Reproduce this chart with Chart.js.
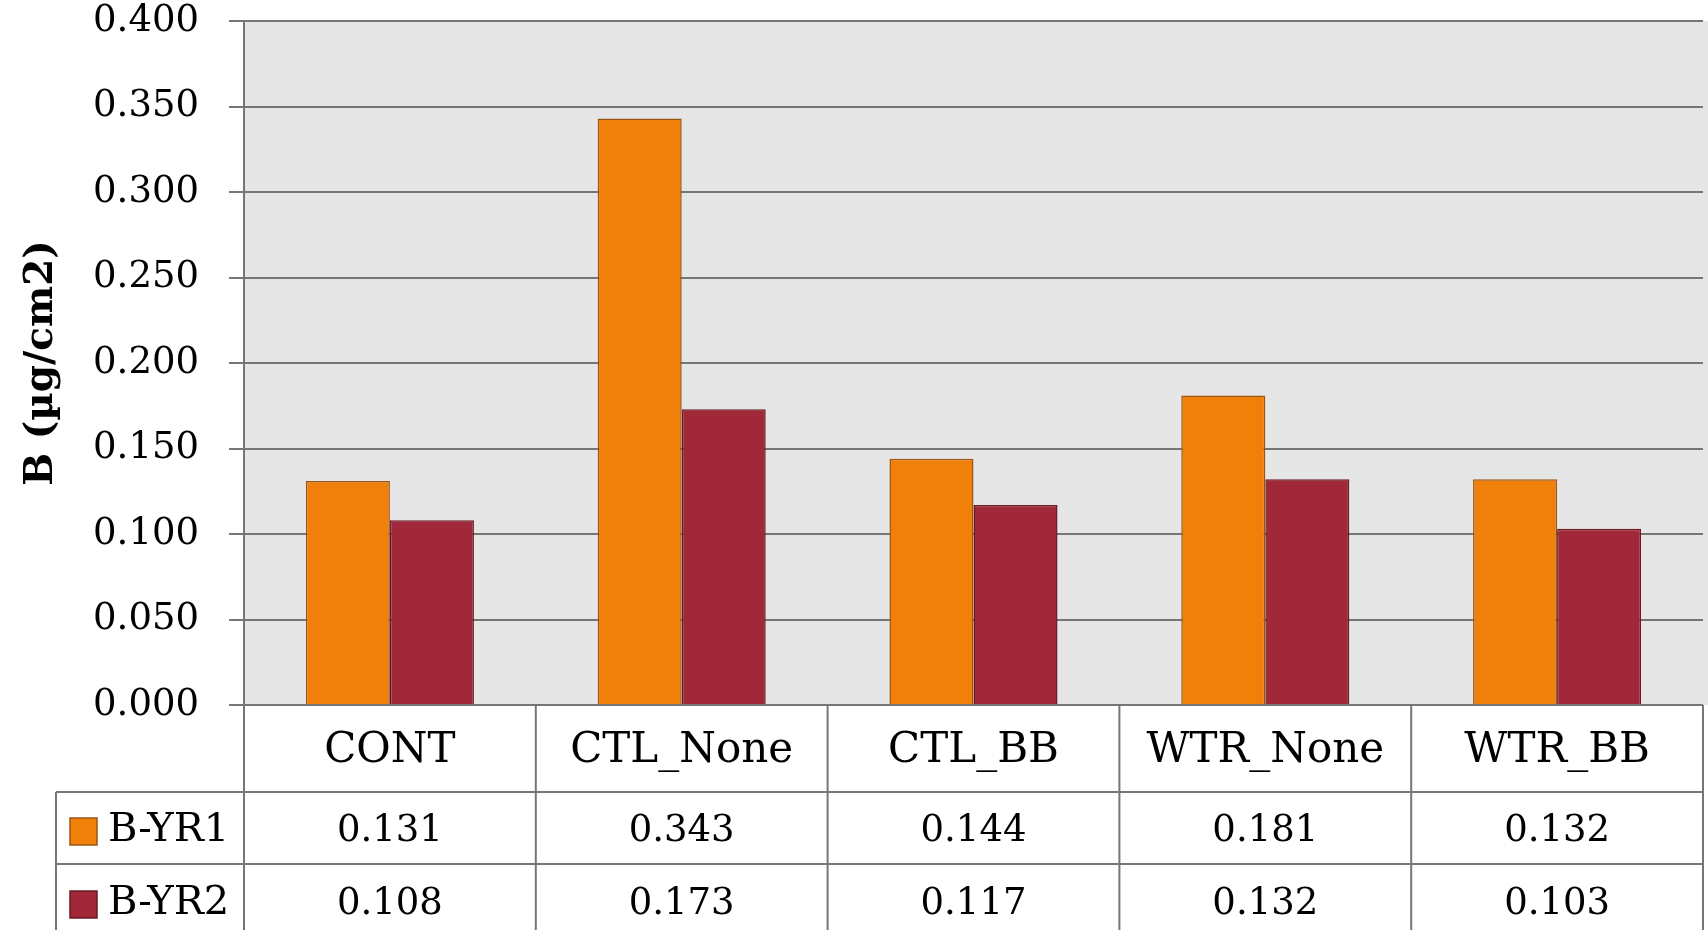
<!DOCTYPE html>
<html>
<head>
<meta charset="utf-8">
<script src="https://cdn.jsdelivr.net/npm/chart.js@4/dist/chart.umd.min.js"></script>
<style>
  html, body { margin: 0; padding: 0; background: #fff; }
  #contenedor { width: 1708px; height: 930px; }
</style>
</head>
<body>
<div id="contenedor"><canvas id="grafico"></canvas></div>
<script>
const categorias = ["CONT", "CTL_None", "CTL_BB", "WTR_None", "WTR_BB"];
const serieYr1 = [0.131, 0.343, 0.144, 0.181, 0.132];
const serieYr2 = [0.108, 0.173, 0.117, 0.132, 0.103];
const nombresSeries = ["B-YR1", "B-YR2"];
const ticksY = [0, 0.05, 0.1, 0.15, 0.2, 0.25, 0.3, 0.35, 0.4];
const tituloY = "B (µg/cm2)";

const FUENTE = "'DejaVu Serif', 'Liberation Serif', serif";
const colorGris = "#767676";
const coloresRelleno = ["#F0800A", "#A02838"];
const coloresBorde = ["#9A5516", "#6A1A25"];

// fondo gris del area de trazado
const fondoArea = {
  id: "fondoArea",
  beforeDraw(chart) {
    const { ctx, chartArea: a } = chart;
    ctx.save();
    ctx.fillStyle = "#E6E6E6";
    ctx.fillRect(a.left, a.top, chart.width - a.left, a.bottom - a.top);
    ctx.restore();
  }
};

// tabla de datos bajo el eje x
const tablaDatos = {
  id: "tablaDatos",
  afterDraw(chart) {
    const { ctx, chartArea: a, scales: { x } } = chart;
    const paso = x.width / categorias.length;
    const y0 = a.bottom, y1 = y0 + 87, y2 = y1 + 72, y3 = chart.height + 5;
    const xLeyenda = 56;
    const series = [serieYr1, serieYr2];

    ctx.save();
    ctx.strokeStyle = colorGris;
    ctx.lineWidth = 2;
    const linea = (xa, ya, xb, yb) => {
      ctx.beginPath(); ctx.moveTo(xa, ya); ctx.lineTo(xb, yb); ctx.stroke();
    };
    linea(xLeyenda, y1, x.right, y1);
    linea(xLeyenda, y2, x.right, y2);
    linea(xLeyenda, y1, xLeyenda, y3);
    for (let i = 0; i <= categorias.length; i++) {
      const xb = x.left + i * paso;
      linea(xb, y0, xb, y3);
    }

    ctx.fillStyle = "#000";
    ctx.textAlign = "center";
    ctx.textBaseline = "middle";
    ctx.font = "42px " + FUENTE;
    categorias.forEach((c, i) => {
      ctx.fillText(c, x.getPixelForValue(i), (y0 + y1) / 2 + 3);
    });

    ctx.font = "37px " + FUENTE;
    const centrosFila = [(y1 + y2) / 2 + 3, y2 + 40];
    series.forEach((s, k) => {
      s.forEach((v, i) => {
        ctx.fillText(v.toFixed(3), x.getPixelForValue(i), centrosFila[k]);
      });
    });

    // leyenda en la primera columna
    ctx.textAlign = "left";
    ctx.font = "40px " + FUENTE;
    nombresSeries.forEach((n, k) => {
      const cy = centrosFila[k];
      ctx.fillStyle = coloresRelleno[k];
      ctx.fillRect(70, cy - 13, 27, 27);
      ctx.strokeStyle = coloresBorde[k];
      ctx.lineWidth = 1.5;
      ctx.strokeRect(70, cy - 13, 27, 27);
      ctx.fillStyle = "#000";
      ctx.fillText(n, 108, cy);
    });
    ctx.restore();
  }
};

new Chart(document.getElementById("grafico"), {
  type: "bar",
  data: {
    labels: categorias,
    datasets: nombresSeries.map((n, k) => ({
      label: n,
      data: [serieYr1, serieYr2][k],
      backgroundColor: coloresRelleno[k],
      borderColor: coloresBorde[k],
      borderWidth: 1.5,
      categoryPercentage: 0.576,
      barPercentage: 1
    }))
  },
  options: {
    responsive: true,
    maintainAspectRatio: false,
    animation: false,
    layout: { padding: { top: 21, right: 5, bottom: 225, left: 0 } },
    plugins: {
      legend: { display: false },
      tooltip: { enabled: false }
    },
    scales: {
      x: {
        grid: { display: false },
        border: { display: false },
        ticks: { display: false },
        afterFit: (s) => { s.height = 0; }
      },
      y: {
        min: 0,
        max: 0.4,
        afterFit: (s) => {
          s.width = 244;
          s.paddingTop = 0;
          s.paddingBottom = 0;
        },
        afterBuildTicks: (s) => { s.ticks = ticksY.map(v => ({ value: v })); },
        ticks: {
          padding: 30,
          color: "#000",
          font: { family: FUENTE, size: 37 },
          callback: (v) => Number(v).toFixed(3)
        },
        grid: { color: colorGris, lineWidth: 2, tickLength: 15 },
        border: { color: colorGris, width: 2 },
        title: {
          display: true,
          text: tituloY,
          color: "#000",
          font: { family: FUENTE, size: 39, weight: "bold" },
          padding: { top: 18, bottom: 0 }
        }
      }
    }
  },
  plugins: [fondoArea, tablaDatos]
});
</script>
</body>
</html>
